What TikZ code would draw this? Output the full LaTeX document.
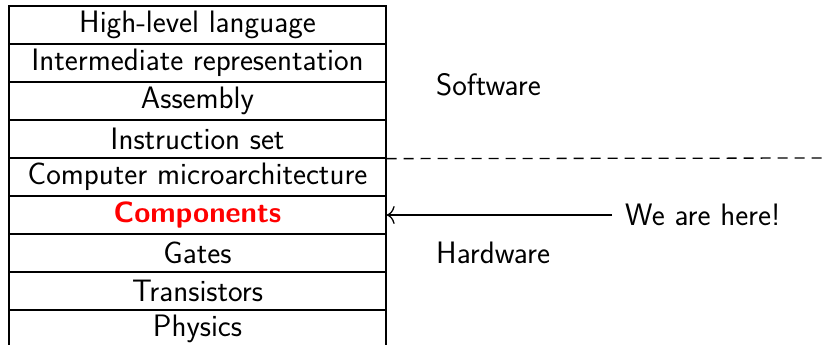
\documentclass[tikz,border=0pt]{standalone}
\usetikzlibrary{arrows.meta}
\begin{document}
\begin{tikzpicture}[x=1pt,y=-1pt,
  layer/.style={draw,line width=1.3pt,minimum width=377pt,minimum height=38pt,inner sep=0pt,
    font=\fontsize{31}{36}\selectfont\sffamily},
  lbl/.style={inner sep=0pt,anchor=west,font=\fontsize{31}{36}\selectfont\sffamily}]
\useasboundingbox (0,0) rectangle (828,345);
\node[layer] (hl) at (197.5,25) {High-level language};
\node[layer] (ir) at (197.5,63) {Intermediate representation};
\node[layer] (as) at (197.5,101) {Assembly};
\node[layer] (is) at (197.5,139) {Instruction set};
\node[layer] (cm) at (197.5,177) {Computer microarchitecture};
\node[layer,text=red,font=\fontsize{29.3}{36}\selectfont\sffamily\bfseries] (co) at (197.5,215) {Components};
\node[layer] (ga) at (197.5,253) {Gates};
\node[layer] (tr) at (197.5,291) {Transistors};
\node[layer] (ph) at (197.5,329) {Physics};
\node[lbl] (sw) at (436,85) {Software};
\node[lbl] (hw) at (436,253) {Hardware};
\node[lbl] (we) at (625,215) {We are here!};
\coordinate (dend) at (830,158);
\draw[line width=1.3pt,dash pattern=on 10pt off 7pt] (is.south east) -- (dend);
\draw[line width=1.3pt,-{To[length=8pt,width=18pt]}] ([xshift=-13pt]we.west) -- (co.east);
\end{tikzpicture}
\end{document}
